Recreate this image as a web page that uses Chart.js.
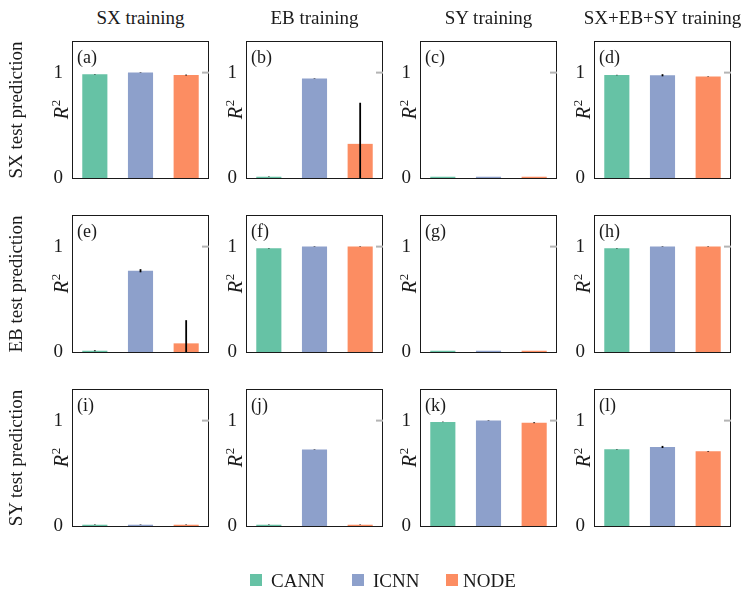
<!DOCTYPE html>
<html>
<head>
<meta charset="utf-8">
<script src="https://cdn.jsdelivr.net/npm/chart.js@4.4.1/dist/chart.umd.min.js"></script>
<style>
  html, body { margin: 0; padding: 0; background: #fff; }
  #fig { position: relative; width: 747px; height: 590px; overflow: hidden; font-family: "Liberation Serif", "DejaVu Serif", serif; color: #1a1a1a; }
  #fig canvas { position: absolute; }
  .txt { position: absolute; white-space: nowrap; font-size: 19px; line-height: 19px; transform: translate(-50%, -50%); }
  .rot { transform: translate(-50%, -50%) rotate(-90deg); }
  .sw { position: absolute; width: 12px; height: 12px; }
  .lg { position: absolute; font-size: 19px; line-height: 19px; white-space: nowrap; }
</style>
</head>
<body>
<div id="fig"></div>
<script>
const models = ['CANN', 'ICNN', 'NODE'];
const colors = ['#66c2a5', '#8da0cb', '#fc8d62'];
const colTitles = ['SX training', 'EB training', 'SY training', 'SX+EB+SY training'];
const rowTitles = ['SX test prediction', 'EB test prediction', 'SY test prediction'];
const letters = ['(a)', '(b)', '(c)', '(d)', '(e)', '(f)', '(g)', '(h)', '(i)', '(j)', '(k)', '(l)'];
const yTicks = [0, 1];

// R^2 mean per training set, values for [CANN, ICNN, NODE]
const sxTestMean = [[0.984, 1.0, 0.977], [0.012, 0.943, 0.324], [0.012, 0.012, 0.012], [0.977, 0.975, 0.962]];
const sxTestErr  = [[0.002, 0.002, 0.004], [0.002, 0.002, 0.39], [0, 0, 0], [0.002, 0.01, 0.002]];
const ebTestMean = [[0.012, 0.771, 0.082], [0.985, 1.0, 1.0], [0.012, 0.012, 0.012], [0.985, 1.0, 1.0]];
const ebTestErr  = [[0.004, 0.015, 0.22], [0.002, 0.002, 0.002], [0, 0, 0], [0.002, 0.002, 0.002]];
const syTestMean = [[0.012, 0.012, 0.012], [0.012, 0.725, 0.012], [0.988, 1.0, 0.98], [0.728, 0.75, 0.709]];
const syTestErr  = [[0.002, 0.002, 0.002], [0.002, 0.002, 0.002], [0.002, 0.002, 0.004], [0.002, 0.01, 0.003]];

const means = [sxTestMean, ebTestMean, syTestMean];
const errs = [sxTestErr, ebTestErr, syTestErr];

const FONT = '"Liberation Serif", "DejaVu Serif", serif';
const colLeft = [72, 246, 420, 594];
const rowTop = [41, 215, 389];
const size = 137;
const fig = document.getElementById('fig');

const panelDecor = {
  id: 'panelDecor',
  beforeDatasetsDraw(chart) {
    const { ctx, chartArea: a, scales: { y } } = chart;
    ctx.save();
    ctx.strokeStyle = '#1a1a1a';
    ctx.lineWidth = 1;
    ctx.strokeRect(a.left + 0.5, a.top + 0.5, a.right - a.left - 1, a.bottom - a.top);
    const y1 = y.getPixelForValue(1);
    ctx.strokeStyle = '#b4b4b4';
    ctx.lineWidth = 2;
    ctx.beginPath();
    ctx.moveTo(a.right - 7, y1);
    ctx.lineTo(a.right, y1);
    ctx.stroke();
    ctx.restore();
  },
  afterDatasetsDraw(chart, args, opts) {
    const { ctx, chartArea: a, scales: { y } } = chart;
    const meta = chart.getDatasetMeta(0);
    ctx.save();
    ctx.beginPath();
    ctx.rect(a.left, a.top, a.right - a.left, a.bottom - a.top);
    ctx.clip();
    ctx.strokeStyle = '#000';
    ctx.lineWidth = 1.8;
    meta.data.forEach((bar, i) => {
      const v = chart.data.datasets[0].data[i];
      const e = opts.err[i];
      if (!e) return;
      ctx.beginPath();
      ctx.moveTo(bar.x, y.getPixelForValue(v - e));
      ctx.lineTo(bar.x, y.getPixelForValue(v + e));
      ctx.stroke();
    });
    ctx.restore();

    ctx.save();
    ctx.fillStyle = '#1a1a1a';
    ctx.font = '18px ' + FONT;
    ctx.textBaseline = 'middle';
    ctx.fillText(opts.letter, a.left + 5, a.top + 17);

    // R^2 label
    const cy = (a.top + a.bottom) / 2;
    ctx.translate(a.left - 4, cy);
    ctx.rotate(-Math.PI / 2);
    ctx.textBaseline = 'alphabetic';
    ctx.font = 'italic 20px ' + FONT;
    const wR = ctx.measureText('R').width;
    ctx.font = '13px ' + FONT;
    const w2 = ctx.measureText('2').width;
    const x0 = -(wR + w2 + 1) / 2;
    ctx.font = 'italic 20px ' + FONT;
    ctx.fillText('R', x0, 0);
    ctx.font = '13px ' + FONT;
    ctx.fillText('2', x0 + wR + 1, -8);
    ctx.restore();
  }
};

function addText(text, x, y, cls) {
  const d = document.createElement('div');
  d.className = 'txt' + (cls ? ' ' + cls : '');
  d.textContent = text;
  d.style.left = x + 'px';
  d.style.top = y + 'px';
  fig.appendChild(d);
}

rowTop.forEach((top, r) => {
  colLeft.forEach((left, c) => {
    const cv = document.createElement('canvas');
    cv.width = 50 + size + 12;
    cv.height = 12 + size + 14;
    cv.style.left = (left - 50) + 'px';
    cv.style.top = (top - 12) + 'px';
    fig.appendChild(cv);

    new Chart(cv, {
      type: 'bar',
      data: {
        labels: models,
        datasets: [{
          data: means[r][c],
          backgroundColor: colors,
          borderWidth: 0,
          categoryPercentage: 1,
          barPercentage: 0.55
        }]
      },
      options: {
        responsive: false,
        animation: false,
        devicePixelRatio: 1,
        layout: { autoPadding: false, padding: { left: 10, top: 12, right: 12, bottom: 14 } },
        plugins: {
          legend: { display: false },
          tooltip: { enabled: false },
          panelDecor: { letter: letters[r * 4 + c], err: errs[r][c] }
        },
        scales: {
          x: { display: false },
          y: {
            min: 0,
            max: 1.3,
            grid: { display: false, drawTicks: false },
            border: { display: false },
            afterBuildTicks: (s) => { s.ticks = yTicks.map(v => ({ value: v })); },
            afterFit: (s) => { s.width = 40; s.paddingTop = 0; s.paddingBottom = 0; },
            ticks: {
              padding: 9,
              color: '#1a1a1a',
              font: { family: FONT, size: 19 }
            }
          }
        }
      },
      plugins: [panelDecor]
    });
  });
});

colTitles.forEach((t, c) => addText(t, colLeft[c] + size / 2, 17));
rowTitles.forEach((t, r) => addText(t, 15, rowTop[r] + size / 2, 'rot'));

// legend
const swX = [250, 352, 446];
const lgX = [271, 373, 463];
models.forEach((m, i) => {
  const s = document.createElement('div');
  s.className = 'sw';
  s.style.left = swX[i] + 'px';
  s.style.top = '574px';
  s.style.background = colors[i];
  fig.appendChild(s);
  const l = document.createElement('div');
  l.className = 'lg';
  l.textContent = m;
  l.style.left = lgX[i] + 'px';
  l.style.top = '571px';
  fig.appendChild(l);
});
</script>
</body>
</html>
